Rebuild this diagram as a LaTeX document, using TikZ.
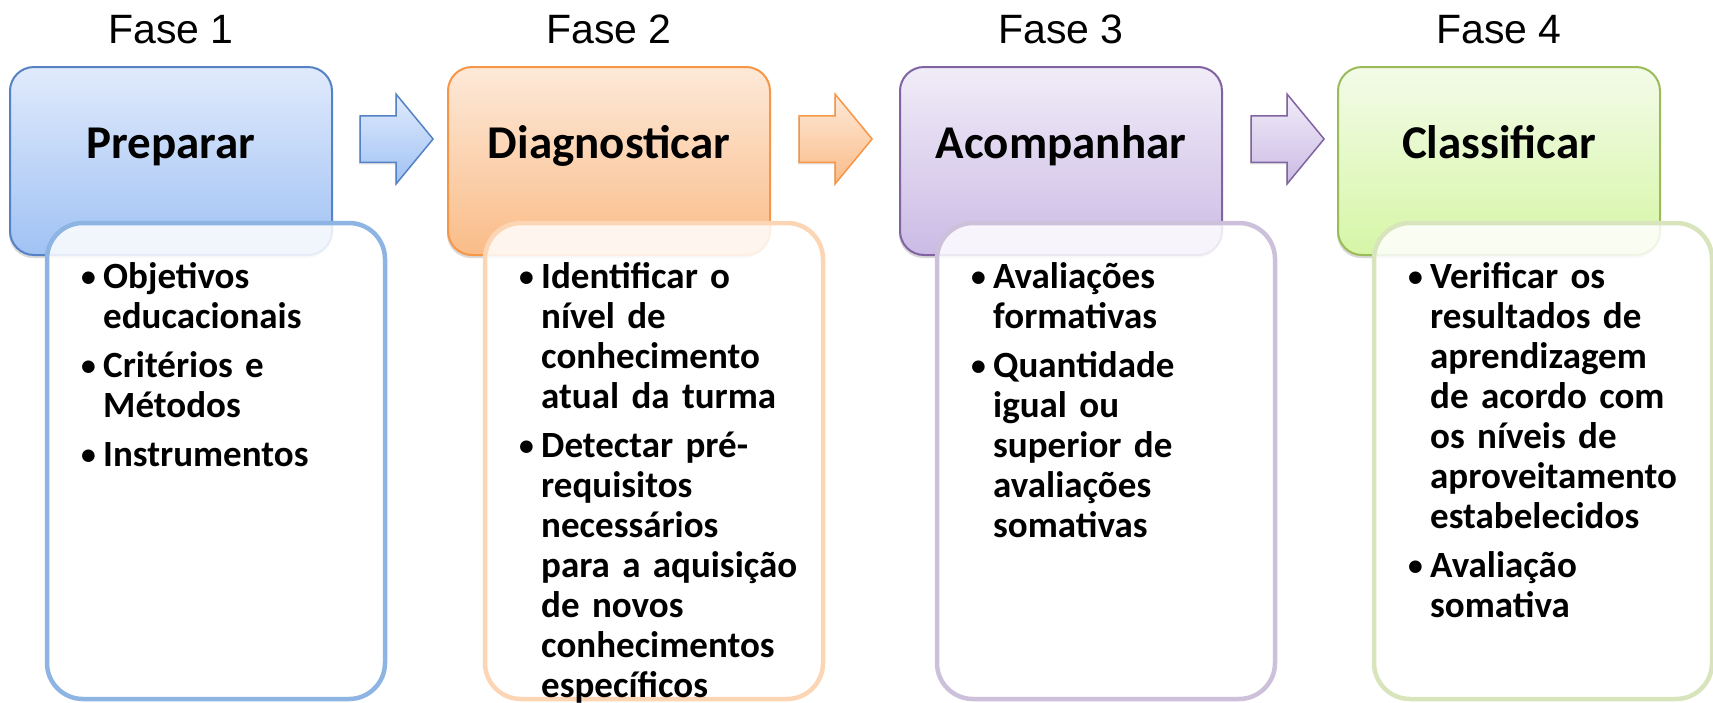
\documentclass[tikz,border=0pt]{standalone}
\usepackage{fontspec}
\setmainfont{Carlito}
\newfontfamily\fasefont{Liberation Sans}
\usetikzlibrary{shapes.arrows,shadows,calc}
\definecolor{blueTop}{RGB}{224,234,252}
\definecolor{blueBot}{RGB}{160,194,244}
\definecolor{blueLine}{RGB}{84,130,196}
\definecolor{blueSoft}{RGB}{141,180,226}
\definecolor{orangeTop}{RGB}{253,233,216}
\definecolor{orangeBot}{RGB}{250,188,136}
\definecolor{orangeLine}{RGB}{247,150,70}
\definecolor{orangeSoft}{RGB}{252,213,180}
\definecolor{purpleTop}{RGB}{241,236,248}
\definecolor{purpleBot}{RGB}{203,187,229}
\definecolor{purpleLine}{RGB}{128,100,162}
\definecolor{purpleSoft}{RGB}{204,192,218}
\definecolor{greenTop}{RGB}{243,251,232}
\definecolor{greenBot}{RGB}{214,246,166}
\definecolor{greenLine}{RGB}{155,187,89}
\definecolor{greenSoft}{RGB}{216,228,188}
\newcommand\phasebullet{\makebox[24pt][l]{\hspace{2pt}\raisebox{1.5pt}{\scalebox{0.8}{\textbullet}}}}
\newcommand\phaseitem[1]{{\let\\\newline\noindent\hangindent=24pt\hangafter=1\strut\phasebullet#1\par}}
\tikzset{
  phasebox/.style={draw=#1Line, line width=2pt, rounded corners=24pt, outer sep=0pt,
    top color=#1Top, bottom color=#1Bot, minimum width=322pt, minimum height=188pt,
    drop shadow={shadow xshift=-1pt, shadow yshift=-3pt, opacity=0.3}},
  listbox/.style={draw=#1Soft, line width=4.5pt, rounded corners=36pt, outer sep=0pt,
    fill=white, fill opacity=0.85, minimum width=338pt, minimum height=476pt},
  phasearrow/.style={single arrow, draw=#1Line, line width=1.5pt, top color=#1Top, bottom color=#1Bot,
    minimum height=73pt, inner xsep=0pt, inner ysep=22.5pt, single arrow head extend=21.5pt,
    single arrow tip angle=101,
    drop shadow={shadow xshift=-1pt, shadow yshift=-2pt, opacity=0.25}},
  fasetitle/.style={font=\fasefont\fontsize{41}{49}\selectfont, anchor=base, inner sep=0pt},
  phasetitle/.style={font=\bfseries\fontsize{47}{56}\selectfont, anchor=base, inner sep=0pt},
  itemtext/.style={font=\bfseries\fontsize{37}{40}\selectfont, anchor=north west, inner sep=0pt,
    text width=310pt, execute at begin node={\setlength\parskip{9pt}}}
}
\begin{document}
\begin{tikzpicture}[x=1pt, y=-1pt]
  \useasboundingbox (0,0) rectangle (1713,702);
  % the four phases on top
  \foreach \col/\cx/\nm/\ttl/\k in {blue/171/prep/Preparar/1, orange/609/diag/Diagnosticar/2,
      purple/1061/acomp/Acompanhar/3, green/1499/class/Classificar/4}{
    \node[fasetitle] (fase\k) at (\cx,43) {Fase \k};
    \node[phasebox=\col] (\nm) at (\cx,161) {};
    \node[phasetitle] (\nm Title) at (\cx,158) {\ttl};
  }
  % arrows between the phases
  \node[phasearrow=blue] (arrPrep) at (387,139) {};
  \node[phasearrow=orange] (arrDiag) at (826,139) {};
  \node[phasearrow=purple] (arrAcomp) at (1278,139) {};
  % lists, laid over the bottom of the phases
  \foreach \col/\cx/\nm in {blue/216/prep, orange/654/diag, purple/1106/acomp, green/1543/class}{
    \node[listbox=\col] (\nm List) at (\cx,461) {};
  }
  \node[itemtext] (prepText) at ($(prepList.north west)+(32,37)$) {%
    \phaseitem{Objetivos\\educacionais}\phaseitem{Critérios e\\Métodos}\phaseitem{Instrumentos}};
  \node[itemtext] (diagText) at ($(diagList.north west)+(32,37)$) {%
    \phaseitem{Identificar o\\nível de\\conhecimento\\atual da turma}%
    \phaseitem{Detectar pré-\\requisitos\\necessários\\para a aquisição\\de novos\\conhecimentos\\específicos}};
  \node[itemtext] (acompText) at ($(acompList.north west)+(32,37)$) {%
    \phaseitem{Avaliações\\formativas}%
    \phaseitem{Quantidade\\igual ou\\superior de\\avaliações\\somativas}};
  \node[itemtext] (classText) at ($(classList.north west)+(32,37)$) {%
    \phaseitem{Verificar os\\resultados de\\aprendizagem\\de acordo com\\os níveis de\\aproveitamento\\estabelecidos}%
    \phaseitem{Avaliação\\somativa}};
\end{tikzpicture}
\end{document}
